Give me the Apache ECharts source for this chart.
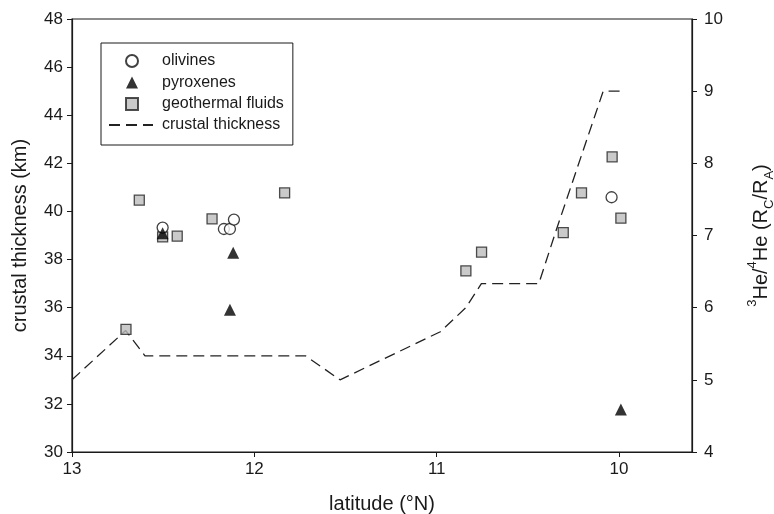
<!DOCTYPE html>
<html>
<head>
<meta charset="utf-8">
<script src="https://cdn.jsdelivr.net/npm/echarts@6/dist/echarts.min.js"></script>
<style>
  html, body { margin: 0; padding: 0; background: #fff; }
  #chart { width: 774px; height: 514px; }
</style>
</head>
<body>
<div id="chart"></div>
<script>
  // crustal thickness profile (left axis, km)
  var crustLat = [13, 12.706, 12.6, 11.72, 11.53, 10.98, 10.84, 10.755, 10.44, 10.35, 10.087, 9.99]
  var crustKm = [33, 35.05, 34, 34, 33, 35, 36, 37, 37, 39.1, 45, 45]

  // 3He/4He (right axis, Rc/Ra)
  var olivineLat = [12.503, 12.167, 12.134, 12.112, 10.041]
  var olivineHe = [7.11, 7.09, 7.09, 7.22, 7.53]

  var pyroxeneLat = [12.503, 12.116, 12.134, 9.99]
  var pyroxeneHe = [7.03, 6.76, 5.97, 4.59]

  var fluidLat = [12.631, 12.503, 12.423, 12.232, 11.834, 12.704, 10.84, 10.754, 10.306, 10.206, 10.038, 9.99]
  var fluidHe = [7.49, 6.98, 6.99, 7.23, 7.59, 5.70, 6.51, 6.77, 7.04, 7.59, 8.09, 7.24]

  var latTicks = [13, 12, 11, 10]

  function pairs(xs, ys) {
    return xs.map(function (x, i) { return [x, ys[i]] })
  }

  var ink = '#1a1a1a'
  var font = 'Liberation Sans, Arial, sans-serif'

  var chart = echarts.init(document.getElementById('chart'))

  var option = {
    backgroundColor: '#fff',
    animation: false,
    textStyle: { fontFamily: font, color: ink },
    grid: {
      left: 72, right: 82, top: 19, bottom: 62,
      containLabel: false,
      outerBoundsMode: 'none',
      show: true,
      borderColor: ink,
      borderWidth: 1.2
    },
    legend: [{
      // symbols + the box
      orient: 'vertical',
      left: 101,
      top: 43,
      padding: [10, 9, 33, 24],
      borderColor: ink,
      borderWidth: 1,
      itemWidth: 12,
      itemHeight: 12,
      itemGap: 5.5,
      textStyle: { fontSize: 16, color: ink, fontFamily: font, padding: [0, 0, 0, 19] },
      data: ['olivines', 'pyroxenes', 'geothermal fluids']
    }, {
      orient: 'vertical',
      left: 108,
      top: 117,
      padding: 0,
      itemWidth: 44,
      itemHeight: 12,
      itemStyle: { color: 'transparent', borderColor: 'transparent', borderWidth: 0 },
      textStyle: { fontSize: 16, color: ink, fontFamily: font, padding: [0, 0, 0, 4] },
      data: ['crustal thickness']
    }],
    xAxis: {
      type: 'value',
      min: 9.6,
      max: 13,
      inverse: true,
      name: 'latitude (°N)',
      nameLocation: 'middle',
      nameGap: 42,
      nameTextStyle: { fontSize: 20, color: ink },
      axisLine: { lineStyle: { color: ink, width: 1.2 } },
      axisTick: { show: true, length: 5, customValues: latTicks, lineStyle: { color: ink } },
      axisLabel: { fontSize: 17, color: ink, margin: 9, customValues: latTicks },
      splitLine: { show: false }
    },
    yAxis: [{
      type: 'value',
      min: 30,
      max: 48,
      interval: 2,
      name: 'crustal thickness (km)',
      nameLocation: 'middle',
      nameGap: 42,
      nameTextStyle: { fontSize: 20, color: ink },
      axisLine: { show: true, lineStyle: { color: ink, width: 1.2 } },
      axisTick: { show: true, length: 5, lineStyle: { color: ink } },
      axisLabel: { fontSize: 17, color: ink, margin: 9 },
      splitLine: { show: false }
    }, {
      type: 'value',
      position: 'right',
      min: 4,
      max: 10,
      interval: 1,
      name: '{sup|3}{n|He/}{sup|4}{n|He (R}{sub|C}{n|/R}{sub|A}{n|)}',
      nameLocation: 'middle',
      nameGap: 54,
      nameRotate: 90,
      nameTextStyle: {
        color: ink,
        rich: {
          n: { fontSize: 20, color: ink, fontFamily: font, lineHeight: 30 },
          sup: { fontSize: 13, color: ink, fontFamily: font, verticalAlign: 'top', lineHeight: 30, padding: [0, 0, 12, 0] },
          sub: { fontSize: 13, color: ink, fontFamily: font, verticalAlign: 'bottom', lineHeight: 30, padding: [9, 0, 0, 0] }
        }
      },
      axisLine: { show: true, lineStyle: { color: ink, width: 1.2 } },
      axisTick: { show: true, length: 5, lineStyle: { color: ink } },
      axisLabel: { fontSize: 17, color: ink, margin: 12 },
      splitLine: { show: false }
    }],
    series: [{
      name: 'crustal thickness',
      type: 'line',
      yAxisIndex: 0,
      data: pairs(crustLat, crustKm),
      showSymbol: false,
      symbol: 'none',
      itemStyle: { color: '#222' },
      lineStyle: { color: '#222', width: 1.3, type: [11, 6] },
      z: 1
    }, {
      name: 'geothermal fluids',
      type: 'scatter',
      yAxisIndex: 1,
      data: pairs(fluidLat, fluidHe),
      symbol: 'rect',
      symbolSize: 10,
      itemStyle: { color: '#bdbdbd', borderColor: '#222', borderWidth: 1.3 },
      z: 3
    }, {
      name: 'olivines',
      type: 'scatter',
      yAxisIndex: 1,
      data: pairs(olivineLat, olivineHe),
      symbol: 'circle',
      symbolSize: 11,
      itemStyle: { color: '#fff', borderColor: '#111', borderWidth: 1.3 },
      z: 4
    }, {
      name: 'pyroxenes',
      type: 'scatter',
      yAxisIndex: 1,
      data: pairs(pyroxeneLat, pyroxeneHe),
      symbol: 'triangle',
      symbolSize: 12,
      itemStyle: { color: '#000' },
      z: 5
    }]
  }

  chart.setOption(option)
</script>
</body>
</html>
